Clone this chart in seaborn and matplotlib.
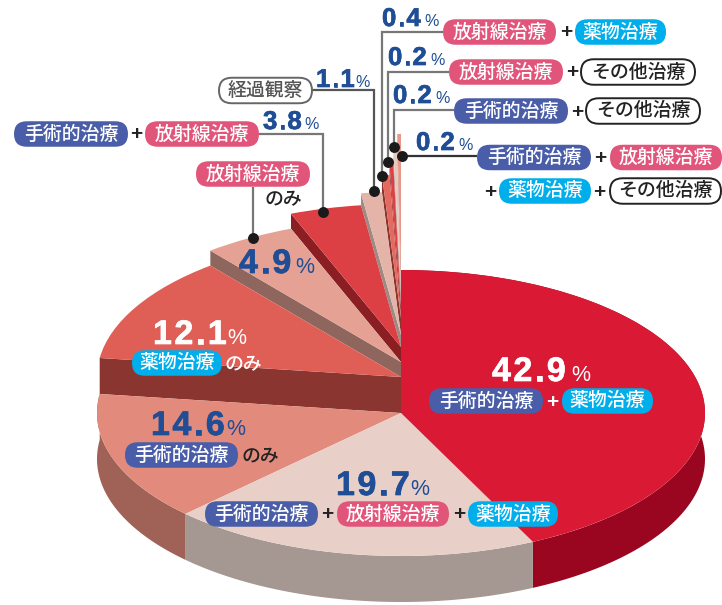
import numpy as np
import matplotlib
matplotlib.use("Agg")
import matplotlib.pyplot as plt
import matplotlib.patheffects as pe
from matplotlib.patches import FancyBboxPatch
import seaborn as sns

# ---- data ----
slice_names = ["手術+薬物", "手術+放射線+薬物", "手術のみ", "薬物のみ", "放射線のみ", "手術+放射線",
               "経過観察", "放射線+薬物", "放射線+その他", "手術+その他", "手術+放射線+薬物+その他"]
slice_values = [42.9, 19.7, 14.6, 12.1, 4.9, 3.8, 1.1, 0.4, 0.2, 0.2, 0.2]

# ---- style ----
top_colors = ["#DA1A35", "#E8D0C8", "#E28A7C", "#DF5E55", "#E4A194", "#DC4045",
              "#E5B4A8", "#E26A5F", "#DC3F45", "#E8C9BE", "#E8988A"]
wall_colors = ["#9A061F", "#A59791", "#A06257", "#8A352F", "#8F665E", "#8B1E22",
               "#9C8A84", "#8A352F", "#8B1E22", "#A59791", "#A06257"]
lift_px = [0, 0, 0, 36, 51, 66, 78, 95, 105, 118, 136]
CX, CY, RX, RY, DEPTH = 401, 413, 304, 143, 46
W, H = 722, 605

BLUE, PINK, CYAN = "#4A5DA8", "#E2557B", "#00AEEB"
NUM = "#1F4E96"
DARK = "#222222"
LINE = "#777777"
CJK = ["Noto Sans CJK JP", "DejaVu Sans"]

sns.set_theme(style="white")
plt.rcParams["font.family"] = CJK
tops = sns.color_palette(top_colors)
walls = sns.color_palette(wall_colors)

fig = plt.figure(figsize=(W / 100, H / 100), dpi=100)
ax = fig.add_axes([0, 0, 1, 1])

wedges, _ = ax.pie(slice_values, colors=tops, startangle=90, counterclock=False,
                   radius=1, wedgeprops={"linewidth": 0})
ax.set_aspect("auto")
ax.set_xlim(-CX / RX, (W - CX) / RX)
ax.set_ylim((CY - H) / RY, CY / RY)
ax.axis("off")

n = len(wedges)
lifts = [p / RY for p in lift_px]
for i, w in enumerate(wedges):
    z = 10 + 2 * (n - i)
    w.set_center((0, lifts[i]))
    w.set_zorder(z + 1)
    if i < 3:  # outer rim
        t = np.radians(np.linspace(w.theta1, w.theta2, 120))
        xs, ys = np.cos(t), np.sin(t)
        d = DEPTH / RY
        ax.fill(np.r_[xs, xs[::-1]], np.r_[ys, ys[::-1] - d], color=walls[i], lw=0, zorder=2)
    if i > 0 and lifts[i] > lifts[i - 1]:  # riser along the leading edge
        a = np.radians(w.theta2)
        ex, ey = np.cos(a), np.sin(a)
        ax.fill([0, ex, ex, 0],
                [lifts[i], lifts[i] + ey, lifts[i - 1] + ey, lifts[i - 1]],
                color=walls[i], lw=0, zorder=z)

# ---- annotation layer in pixel units ----
an = fig.add_axes([0, 0, 1, 1], facecolor="none")
an.set_xlim(0, W)
an.set_ylim(H, 0)
an.axis("off")


def pill(x0, x1, yc, text, face, tc="white", edge=None):
    h = 25.5
    an.add_patch(FancyBboxPatch((x0, yc - h / 2), x1 - x0, h,
                                boxstyle=f"round,pad=0,rounding_size={h / 2}",
                                fc=face, ec=edge if edge else "none",
                                lw=1.4 if edge else 0, zorder=5))
    an.text((x0 + x1) / 2, yc - 0.5, text, color=tc, fontsize=13.6, ha="center", va="center",
            family=CJK, weight="medium", zorder=6)


def plus(x, y, c=DARK):
    an.text(x, y, "+", color=c, fontsize=15, ha="center", va="center", weight="bold",
            family=["Liberation Sans"], zorder=6)


def pct(x, base, num, xp, c=NUM, big=False):
    fs = 24.5 if big else 18.5
    px = fs * 100 / 72
    track = 2.5 if big else 1.5
    cur = x
    for ch in num:  # wide-set figures, one glyph at a time
        an.text(cur, base, ch, color=c, fontsize=fs, weight="bold", ha="left", va="baseline",
                family=["Liberation Sans"], zorder=6,
                path_effects=[pe.withStroke(linewidth=0.5, foreground=c)])
        cur += px * (0.278 if ch == "." else 0.556) + track
    an.text(xp, base, "%", color=c, fontsize=15.5 if big else 11.5, ha="left", va="baseline",
            family=["Liberation Sans"], zorder=6)


def lead(xs, ys, c=LINE):
    an.plot(xs, ys, color=c, lw=1.6, zorder=4, solid_capstyle="butt", solid_joinstyle="miter")
    an.scatter(xs[-1], ys[-1], s=62, color="#1A1A1A", lw=0, zorder=7)


SH, HO, YA, SO = "手術的治療", "放射線治療", "薬物治療", "その他治療"

# leaders
lead([312, 374, 374], [90, 90, 191], "#555555")
lead([259, 323, 323], [134, 134, 212])
lead([253, 253], [187, 238])
lead([443, 382, 382], [31.5, 31.5, 176])
lead([449, 388, 388], [71.5, 71.5, 162])
lead([454, 394, 394], [110, 110, 147])
lead([477, 402], [156, 156], "#333333")

# upper right rows
pill(443, 556, 32, HO, PINK); plus(566, 33); pill(575, 666, 32, YA, CYAN)
pill(449, 563, 72, HO, PINK); plus(572, 73); pill(581, 695, 72, SO, "white", DARK, DARK)
pill(454, 568, 111, SH, BLUE); plus(577, 112); pill(586, 700, 111, SO, "white", DARK, DARK)
pill(477, 591, 157.5, SH, BLUE); plus(600, 159); pill(610, 722, 157.5, HO, PINK)
plus(490, 192); pill(499, 591, 191, YA, CYAN); plus(599, 192); pill(610, 721, 191, SO, "white", DARK, DARK)

pct(382, 26, "0.4", 424)
pct(388, 65, "0.2", 430)
pct(393, 103, "0.2", 435)
pct(416, 150, "0.2", 458)

# upper left
pill(219, 312, 90.5, "経過観察", "white", "#555555", "#666666")
pct(316, 87, "1.1", 355)
pill(14, 128, 134, SH, BLUE); plus(136, 135); pill(145, 259, 134, HO, PINK)
pct(263, 129, "3.8", 304)
pill(196, 310, 174, HO, PINK)
an.text(265, 199, "のみ", color=DARK, fontsize=13.6, ha="left", va="center", family=CJK, weight="medium", zorder=6)
pct(239, 273, "4.9", 295, big=True)

# inside the pie
pct(492, 381, "42.9", 571, c="white", big=True)
pill(429, 543, 401, SH, BLUE); plus(552, 402, "white"); pill(562, 653, 401, YA, CYAN)

pct(153, 344, "12.1", 227, c="white", big=True)
pill(132, 222, 363, YA, CYAN)
an.text(225, 364, "のみ", color="white", fontsize=13.6, ha="left", va="center", family=CJK, weight="medium", zorder=6)

pct(151, 435, "14.6", 226, big=True)
pill(125, 238, 455, SH, BLUE)
an.text(242, 456, "のみ", color=DARK, fontsize=13.6, ha="left", va="center", family=CJK, weight="medium", zorder=6)

pct(336, 495, "19.7", 410, big=True)
pill(205, 318, 514, SH, BLUE); plus(327, 515); pill(337, 449, 514, HO, PINK)
plus(459, 515); pill(468, 558, 514, YA, CYAN)

fig.savefig("out.png", dpi=100, facecolor="white")
